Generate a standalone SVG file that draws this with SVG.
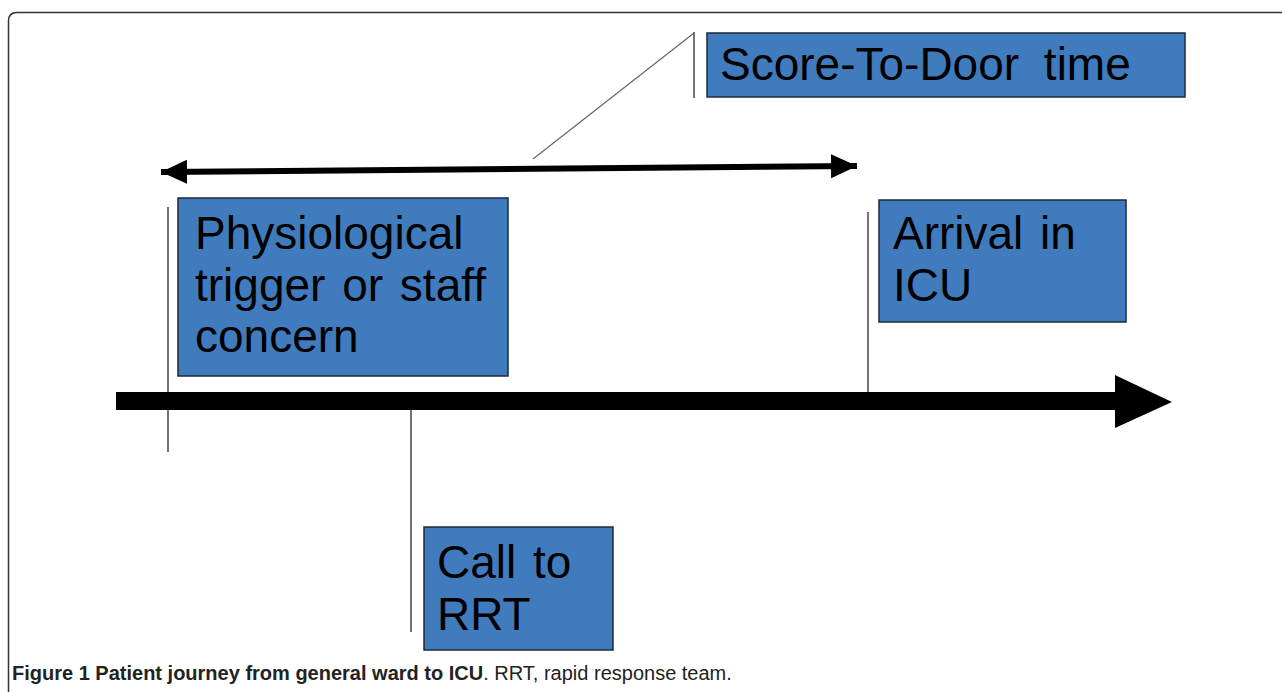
<svg xmlns="http://www.w3.org/2000/svg" width="1282" height="692" viewBox="0 0 1282 692">
<style>
.box{fill:#3f7bbd;stroke:#1e2a38;stroke-width:1.5}
.lbl{font-family:"Liberation Sans",Arial,sans-serif;font-size:46px;fill:#000;word-spacing:4px}
.tick{stroke:#444;stroke-width:1.5;fill:none}
.cap{font-family:"Liberation Sans",Arial,sans-serif;font-size:20px;fill:#222}
</style>
<defs>
<marker id="hd" markerUnits="userSpaceOnUse" markerWidth="30" markerHeight="26" refX="26" refY="12" orient="auto-start-reverse">
<path d="M0,0 L26,12 L0,24 Z" fill="#000"/>
</marker>
</defs>
<rect width="1282" height="692" fill="#fff"/>
<path d="M8.5,692 L8.5,21 Q8.5,12.5 17,12.5 L1282,12.5" fill="none" stroke="#333" stroke-width="1.5"/>
<g id="connectors">
<line class="tick" x1="694" y1="32" x2="694" y2="98"/>
<line x1="694" y1="33" x2="533" y2="159" stroke="#666" stroke-width="1.2"/>
<line x1="161" y1="172" x2="857" y2="166" stroke="#000" stroke-width="6" marker-start="url(#hd)" marker-end="url(#hd)"/>
<line class="tick" x1="168" y1="207" x2="168" y2="452"/>
<line class="tick" x1="868" y1="212" x2="868" y2="392"/>
<line class="tick" x1="411" y1="410" x2="411" y2="632"/>
<polygon points="116,392 1115,392 1115,375 1172,402 1115,428 1115,410 116,410" fill="#000"/>
</g>
<g id="score-to-door">
<rect class="box" x="707" y="33" width="478" height="64"/>
<text class="lbl" x="720" y="80" style="word-spacing:12px">Score-To-Door time</text>
</g>
<g id="physiological">
<rect class="box" x="178" y="198" width="330" height="178"/>
<text class="lbl" x="195" y="249">Physiological</text>
<text class="lbl" x="195" y="301">trigger or staff</text>
<text class="lbl" x="195" y="352">concern</text>
</g>
<g id="arrival">
<rect class="box" x="879" y="200" width="247" height="122"/>
<text class="lbl" x="893" y="249">Arrival in</text>
<text class="lbl" x="893" y="301">ICU</text>
</g>
<g id="call">
<rect class="box" x="424" y="527" width="189" height="123"/>
<text class="lbl" x="437" y="578">Call to</text>
<text class="lbl" x="437" y="630">RRT</text>
</g>
<text class="cap" x="12" y="680"><tspan font-weight="bold">Figure 1 Patient journey from general ward to ICU</tspan>. RRT, rapid response team.</text>
</svg>
